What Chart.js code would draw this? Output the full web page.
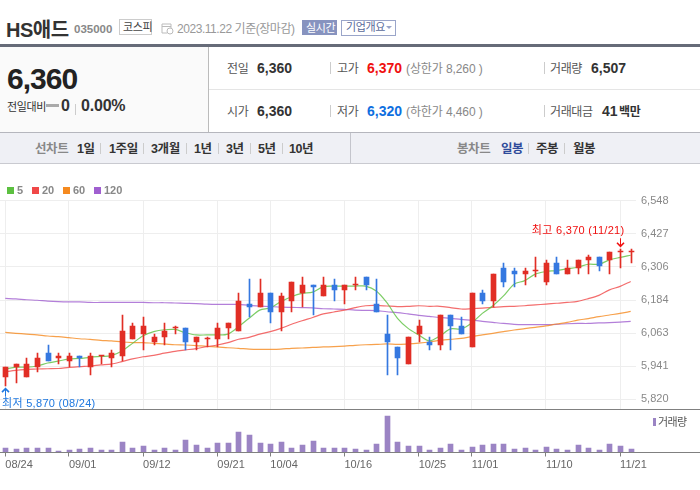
<!DOCTYPE html>
<html lang="ko"><head><meta charset="utf-8">
<style>
html,body{margin:0;padding:0;background:#fff;width:700px;height:490px;overflow:hidden;font-family:"Liberation Sans","Noto Sans CJK KR",sans-serif}
.t{position:absolute;white-space:nowrap;line-height:16px;height:16px;font-size:12px;letter-spacing:-.4px;color:#555}
.b{font-weight:bold;font-size:14px;letter-spacing:0;color:#333}
.g{font-weight:bold;color:#888;font-size:12.5px}
.d{font-weight:bold;color:#333;font-size:12.5px}
.s{position:absolute;width:1px;background:#ccc}
.r{position:absolute}
canvas{position:absolute;left:0}
</style></head><body>
<div class="t" style="left:6px;top:20px;height:20px;line-height:20px;font-size:20px;font-weight:bold;color:#333;letter-spacing:-.5px">HS애드</div>
<div class="t" style="left:74px;top:21px;font-size:11.5px;letter-spacing:0;color:#888;font-weight:bold">035000</div>
<div class="r" style="left:119px;top:19px;width:31px;height:14px;border:1px solid #ccc"></div>
<div class="t" style="left:123px;top:19px;font-size:11px;color:#444">코스피</div>
<svg class="r" style="left:161px;top:23px" width="13" height="12" viewBox="0 0 13 12"><path d="M1 1h9v4M1 1v9h5M1 3.5h9" fill="none" stroke="#bbb"/><circle cx="9" cy="8" r="3" fill="#fff" stroke="#bbb"/></svg>
<div class="t" style="left:177px;top:21px;font-size:12px;letter-spacing:-.45px;color:#999">2023.11.22 기준(장마감)</div>
<div class="r" style="left:302px;top:20px;width:35px;height:15px;background:#8793bf"></div>
<div class="t" style="left:306px;top:20px;font-size:11px;color:#fff">실시간</div>
<div class="r" style="left:341px;top:20px;width:53px;height:14px;border:1px solid #9aa5c9"></div>
<div class="t" style="left:346px;top:19px;font-size:11px;color:#5a6a9a">기업개요</div>
<svg class="r" style="left:386px;top:26px" width="6" height="4"><path d="M0 0h6L3 3z" fill="#9aa5c9"/></svg>
<div class="r" style="left:0;top:44px;width:700px;height:3px;background:#666b78"></div>

<div class="r" style="left:0;top:47px;width:208px;height:85px;background:#fafafa;border-right:1px solid #bbb"></div>
<div class="t" style="left:7px;top:63px;height:32px;line-height:32px;font-size:30px;font-weight:bold;letter-spacing:-1px;color:#222">6,360</div>
<div class="t" style="left:7px;top:99px;font-size:11px;letter-spacing:-.4px;color:#333">전일대비</div>
<div class="r" style="left:46px;top:104px;width:13px;height:3px;background:#aaa"></div>
<div class="t b" style="left:61px;top:98px;font-size:16px">0</div>
<div class="s" style="left:75px;top:104px;height:11px"></div>
<div class="t b" style="left:81px;top:98px;font-size:16px;letter-spacing:-.2px">0.00%</div>

<div class="r" style="left:209px;top:89px;width:491px;height:1px;background:#e5e5e5"></div>
<div class="t" style="left:227px;top:61px">전일</div><div class="t b" style="left:257px;top:60px">6,360</div>
<div class="s" style="left:330px;top:62px;height:12px"></div>
<div class="t" style="left:337px;top:61px">고가</div><div class="t b" style="left:367px;top:60px;color:#f01010">6,370</div>
<div class="t" style="left:406px;top:61px;color:#888;letter-spacing:-.1px">(상한가 8,260 )</div>
<div class="s" style="left:544px;top:62px;height:12px"></div>
<div class="t" style="left:550px;top:61px">거래량</div><div class="t b" style="left:591px;top:60px">6,507</div>
<div class="t" style="left:227px;top:104px">시가</div><div class="t b" style="left:257px;top:103px">6,360</div>
<div class="s" style="left:330px;top:105px;height:12px"></div>
<div class="t" style="left:337px;top:104px">저가</div><div class="t b" style="left:367px;top:103px;color:#0f6fe0">6,320</div>
<div class="t" style="left:406px;top:104px;color:#888;letter-spacing:-.1px">(하한가 4,460 )</div>
<div class="s" style="left:544px;top:105px;height:12px"></div>
<div class="t" style="left:550px;top:104px">거래대금</div><div class="t b" style="left:602px;top:103px">41</div>
<div class="t" style="left:619px;top:104px;color:#333;font-weight:bold">백만</div>

<div class="r" style="left:0;top:132px;width:700px;height:30px;background:#eff0f5;border-top:1px solid #b5b6bd;border-bottom:1px solid #c9cad0"></div>
<div class="s" style="left:350px;top:133px;height:30px;background:#c4c5cc"></div>
<div class="t g" style="left:35px;top:141px">선차트</div>
<div class="t d" style="left:77px;top:141px">1일</div><div class="s" style="left:100px;top:143px;height:11px"></div>
<div class="t d" style="left:109px;top:141px">1주일</div><div class="s" style="left:143px;top:143px;height:11px"></div>
<div class="t d" style="left:151px;top:141px">3개월</div><div class="s" style="left:186px;top:143px;height:11px"></div>
<div class="t d" style="left:194px;top:141px">1년</div><div class="s" style="left:218px;top:143px;height:11px"></div>
<div class="t d" style="left:226px;top:141px">3년</div><div class="s" style="left:250px;top:143px;height:11px"></div>
<div class="t d" style="left:258px;top:141px">5년</div><div class="s" style="left:282px;top:143px;height:11px"></div>
<div class="t d" style="left:289px;top:141px">10년</div>
<div class="t g" style="left:457px;top:141px">봉차트</div>
<div class="t d" style="left:501px;top:141px;color:#2f4b9a">일봉</div><div class="s" style="left:528px;top:143px;height:11px"></div>
<div class="t d" style="left:536px;top:141px">주봉</div><div class="s" style="left:564px;top:143px;height:11px"></div>
<div class="t d" style="left:573px;top:141px">월봉</div>

<canvas id="price" width="700" height="241" style="top:180px"></canvas>
<canvas id="volume" width="700" height="85" style="top:405px"></canvas>
<div class="r" style="left:0;top:409px;width:700px;height:1px;background:#808080"></div>
<div class="r" style="left:0;top:452px;width:700px;height:1px;background:#808080"></div>
<div class="r" style="left:653px;top:418px;width:3px;height:8px;background:#9b84c4"></div>
<div class="t" style="left:658px;top:414px;font-size:11px;letter-spacing:-.6px;color:#555">거래량</div>

<script src="https://cdn.jsdelivr.net/npm/chart.js@4"></script>
<script>
const dates = ["08/24","08/25","08/28","08/29","08/30","08/31","09/01","09/04","09/05","09/06","09/07","09/08","09/11","09/12","09/13","09/14","09/15","09/18","09/19","09/20","09/21","09/22","09/25","09/26","09/27","10/04","10/05","10/06","10/10","10/11","10/12","10/13","10/16","10/17","10/18","10/19","10/20","10/23","10/24","10/25","10/26","10/27","10/30","10/31","11/01","11/02","11/03","11/06","11/07","11/08","11/09","11/10","11/13","11/14","11/15","11/16","11/17","11/20","11/21","11/22"];
const tickDates = ["08/24","09/01","09/12","09/21","10/04","10/16","10/25","11/01","11/10","11/21"];
const priceTicks = [6548,6427,6306,6184,6063,5941,5820];
const opens = [5900,5940,5900,5940,5990,5970,5960,5980,5940,5980,5970,5980,6040,6060,6030,6050,6080,6080,6030,6040,6040,6080,6070,6170,6160,6210,6140,6180,6210,6240,6200,6240,6220,6240,6270,6170,6060,6010,5950,6060,6030,6020,6130,6090,6010,6210,6180,6300,6290,6280,6290,6250,6320,6280,6300,6330,6340,6330,6360,6360];
const closes = [5940,5950,5950,5970,5960,5980,5980,5970,5980,5980,5990,6070,6090,6090,6050,6070,6080,6030,6050,6040,6080,6100,6180,6160,6210,6140,6200,6250,6240,6230,6240,6220,6240,6240,6240,6140,6030,5970,6050,6090,6020,6130,6090,6060,6210,6180,6280,6250,6280,6290,6290,6320,6280,6300,6330,6340,6310,6360,6360,6360];
const highs = [5940,5950,5970,5990,6020,5990,5990,5980,5990,5980,6000,6130,6100,6120,6060,6100,6090,6080,6050,6050,6100,6100,6210,6260,6260,6210,6210,6250,6270,6240,6270,6260,6240,6270,6270,6260,6130,6010,6050,6110,6050,6130,6130,6120,6210,6220,6280,6320,6300,6300,6340,6330,6340,6330,6330,6350,6340,6360,6370,6370];
const lows = [5870,5880,5900,5920,5960,5950,5940,5940,5910,5950,5940,5960,6040,6000,6020,6020,6060,6000,6000,6010,6010,6040,6070,6120,6160,6100,6070,6140,6160,6130,6200,6180,6170,6220,6220,6140,5910,5910,5950,6030,6000,6000,6000,6060,6010,6170,6160,6230,6230,6240,6270,6240,6280,6280,6280,6280,6290,6280,6300,6320];
const ma5 = [5931,5938,5938,5942,5953,5960,5968,5970,5974,5977,5980,5997,6025,6053,6068,6075,6076,6064,6056,6056,6056,6059,6086,6117,6147,6155,6178,6196,6208,6213,6233,6235,6235,6235,6235,6217,6174,6117,6080,6056,6034,6052,6078,6078,6100,6135,6163,6199,6242,6255,6279,6288,6292,6298,6304,6315,6315,6331,6340,6348];
const ma20 = [5921,5926,5930,5931,5932,5933,5937,5940,5942,5946,5949,5958,5968,5976,5981,5989,5996,6001,6006,6013,6019,6028,6040,6047,6059,6068,6080,6095,6108,6120,6133,6140,6147,6156,6163,6164,6162,6160,6161,6163,6161,6161,6156,6151,6152,6154,6157,6160,6161,6163,6166,6169,6172,6175,6179,6189,6201,6221,6234,6252];
const ma60 = [6065,6062,6059,6056,6052,6050,6046,6042,6040,6036,6034,6030,6028,6028,6025,6023,6020,6019,6017,6014,6012,6009,6007,6004,6003,6003,6004,6007,6008,6010,6012,6013,6015,6018,6020,6021,6023,6021,6023,6026,6030,6036,6040,6043,6050,6056,6062,6068,6074,6079,6084,6089,6096,6102,6110,6116,6123,6129,6135,6142];
const ma120 = [6190,6188,6185,6183,6180,6178,6177,6177,6175,6175,6175,6175,6175,6175,6174,6174,6173,6172,6171,6169,6168,6168,6168,6164,6162,6160,6158,6157,6156,6155,6152,6151,6150,6147,6146,6145,6141,6138,6133,6128,6124,6120,6117,6113,6110,6106,6102,6098,6095,6094,6094,6094,6095,6097,6098,6098,6100,6101,6103,6106];
const volumes = [8500,6500,8500,8500,8500,2600,4500,6500,8500,4500,4500,20000,8500,12400,4500,8500,4500,24000,14300,8500,18200,18200,39600,33800,18200,16300,20000,8500,14300,22100,8500,8500,8500,6507,4500,16300,70900,20000,12400,12400,4500,8500,16300,4500,10400,14300,16300,16300,6500,8500,4500,10400,6500,4500,14300,8500,4500,16300,12400,6507];
const maNames = ["5","20","60","120"];
const maColors = ["#5cc040","#f04848","#f58a1f","#a05fd0"];
const hiDate = "11/21", hiValue = 6370, loDate = "08/24", loValue = 5870;
const upColor = "#e12e25", downColor = "#3578e0", volColor = "#9b84c4";
const FONT = '"Liberation Sans","Noto Sans CJK KR",sans-serif';

const legendX = [7,32,63,94];
maNames.forEach((n,i)=>{
  const b=document.createElement('div');b.className='r';
  b.style.cssText=`left:${legendX[i]}px;top:187px;width:7px;height:7px;background:${maColors[i]}`;
  document.body.appendChild(b);
  const t=document.createElement('div');t.className='t';t.textContent=n;
  t.style.cssText=`left:${legendX[i]+10}px;top:182px;font-size:11px;font-weight:bold;letter-spacing:0;color:#888`;
  document.body.appendChild(t);
});

const snap = {id:'snap',afterDatasetsUpdate(chart){
  chart.getSortedVisibleDatasetMetas().forEach(m=>{
    if(m.type!=='bar')return;
    m.data.forEach(el=>{el.x=Math.round(el.x-0.01)+0.5;el.y=Math.round(el.y);el.base=Math.round(el.base);
      if(el.y===el.base)el.y-=1;});
  });
}};

function arrow(c,x,y,dir){
  c.lineWidth=1;c.beginPath();c.moveTo(x,y+dir*11);c.lineTo(x,y+dir*3);c.stroke();
  c.lineWidth=1.6;c.beginPath();c.moveTo(x-3.5,y+dir*6.5);c.lineTo(x,y+dir*3);c.lineTo(x+3.5,y+dir*6.5);c.stroke();
}
const notes = {id:'notes',afterDraw(chart){
  const c=chart.ctx,xs=chart.scales.x,ys=chart.scales.y;
  c.save();c.font='11px '+FONT;c.letterSpacing='0.3px';
  const hx=Math.round(xs.getPixelForValue(dates.indexOf(hiDate))-0.01)+0.5,hy=ys.getPixelForValue(hiValue);
  c.strokeStyle=c.fillStyle='#f01010';
  arrow(c,hx,hy,-1);
  c.textAlign='right';c.textBaseline='middle';
  c.fillText('최고 '+hiValue.toLocaleString('en-US')+' ('+hiDate+')',hx+4,hy-18.5);
  const lx=Math.round(xs.getPixelForValue(dates.indexOf(loDate))-0.01)+0.5,ly=ys.getPixelForValue(loValue);
  c.strokeStyle=c.fillStyle='#1e78e0';
  arrow(c,lx,ly,1);
  c.textAlign='left';
  c.fillText('최저 '+loValue.toLocaleString('en-US')+' ('+loDate+')',2,ly+18);
  c.restore();
}};

const bodyData = opens.map((o,i)=>[o,closes[i]]);
const wickData = lows.map((l,i)=>[l,highs[i]]);
const candleColor = opens.map((o,i)=>closes[i]>=o?upColor:downColor);
const filterTicks = s=>{s.ticks=s.ticks.filter(t=>tickDates.includes(dates[t.value]));};

new Chart(document.getElementById('price'),{
  type:'bar',
  plugins:[snap,notes],
  data:{labels:dates,datasets:[
    {label:'body',data:bodyData,backgroundColor:candleColor,grouped:false,barPercentage:1,categoryPercentage:1,maxBarThickness:5,minBarLength:1,order:1},
    {label:'wick',data:wickData,backgroundColor:candleColor,grouped:false,barPercentage:1,categoryPercentage:1,maxBarThickness:1,order:2},
    ...[ma5,ma20,ma60,ma120].map((d,i)=>({type:'line',label:maNames[i],data:d,borderColor:maColors[i]+'cc',borderWidth:1.2,pointRadius:0,tension:.3,order:3+i}))
  ]},
  options:{
    responsive:false,animation:false,
    layout:{padding:{top:20.7,bottom:10,left:0,right:0}},
    plugins:{legend:{display:false},tooltip:{enabled:false}},
    scales:{
      x:{offset:true,grid:{offset:false,color:'#eeeeee',drawTicks:false},border:{display:false},
         ticks:{display:false,autoSkip:false},afterBuildTicks:filterTicks,afterFit(s){s.height=0;}},
      y:{position:'right',min:5783,max:6548,grid:{color:'#eeeeee',tickLength:0},border:{display:false},
         afterBuildTicks(s){s.ticks=priceTicks.map(v=>({value:v}));},afterFit(s){s.width=64;},
         ticks:{padding:5,crossAlign:'near',color:'#888',font:{family:FONT,size:11},callback:v=>v.toLocaleString('en-US')}}
    }
  }
});

new Chart(document.getElementById('volume'),{
  type:'bar',
  plugins:[snap],
  data:{labels:dates,datasets:[{label:'거래량',data:volumes,backgroundColor:volColor,barPercentage:1,categoryPercentage:1,maxBarThickness:5}]},
  options:{
    responsive:false,animation:false,
    layout:{padding:{top:5,right:64,left:0,bottom:0}},
    plugins:{legend:{display:false},tooltip:{enabled:false}},
    scales:{
      x:{offset:true,grid:{offset:false,drawOnChartArea:false,tickLength:4,tickColor:'#808080'},border:{display:false},
         ticks:{autoSkip:false,maxRotation:0,align:'start',padding:2,color:'#666',font:{family:FONT,size:11}},
         afterBuildTicks:filterTicks,afterFit(s){s.height=37.5;}},
      y:{display:false,min:0,max:82600}
    }
  }
});
</script>
</body></html>
